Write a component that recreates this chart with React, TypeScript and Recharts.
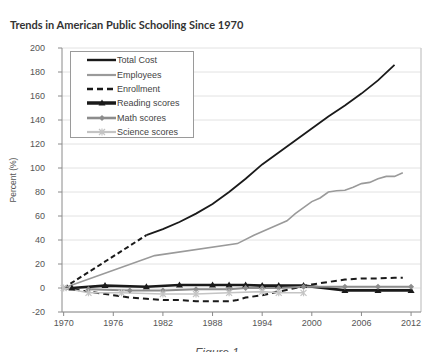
import { CartesianGrid, Line, LineChart, ReferenceLine, XAxis, YAxis } from 'recharts'

// values (percent change since 1970)
const costEarlyYears = [1970, 1980]
const costEarlyValues = [0, 44]

const costYears = [1980, 1982, 1984, 1986, 1988, 1990, 1992, 1994, 1996, 1998, 2000, 2002, 2004, 2006, 2008, 2010]
const costValues = [44, 49, 55, 62, 70, 80, 91, 103, 113, 123, 133, 143, 152, 162, 173, 186]

const employeeYears = [1970, 1981, 1991, 1993, 1995, 1997, 1998, 1999, 2000, 2001, 2002, 2003, 2004, 2005, 2006, 2007, 2008, 2009, 2010, 2011]
const employeeValues = [0, 27, 37, 44, 50, 56, 62, 67, 72, 75, 80, 81, 81.5, 84, 87, 88, 91, 93, 93, 96]

const enrollmentYears = [1970, 1972, 1974, 1976, 1978, 1980, 1982, 1984, 1986, 1988, 1990, 1991, 1992, 1994, 1996, 1998, 2000, 2002, 2004, 2006, 2008, 2010, 2011]
const enrollmentValues = [0, -2, -4, -6, -8, -9, -10, -10, -11, -11, -11, -10, -8, -6, -3, 0, 3, 5, 7, 8, 8, 8.5, 8.5]

const readingYears = [1971, 1975, 1980, 1984, 1988, 1990, 1992, 1994, 1996, 1999, 2004, 2008, 2012]
const readingValues = [0, 2, 1, 2.5, 2.5, 2.5, 2.5, 2, 2, 2, -2, -2, -2]

const mathYears = [1973, 1978, 1982, 1986, 1990, 1992, 1994, 1996, 1999, 2004, 2008, 2012]
const mathValues = [-1, -2, -2, -1, -1, 0, 0, 0, 1, 1, 1, 1]

const scienceYears = [1970, 1973, 1977, 1982, 1986, 1990, 1994, 1996, 1999]
const scienceValues = [0, -4, -4, -5, -5, -4, -3, -4, -4]

const X_TICKS = [1970, 1976, 1982, 1988, 1994, 2000, 2006, 2012]
const Y_TICKS = [-20, 0, 20, 40, 60, 80, 100, 120, 140, 160, 180, 200]
const X_MIN = 1969.8
const X_MAX = 2013.2

type Marker = 'none' | 'triangle' | 'diamond' | 'cross'

interface SeriesDef {
  key: string
  name: string
  years: number[]
  values: number[]
  color: string
  width: number
  dash?: string
  marker: Marker
}

const SERIES: SeriesDef[] = [
  { key: 'cost', name: 'Total Cost', years: costYears, values: costValues, color: '#1a1a1a', width: 1.8, marker: 'none' },
  { key: 'employees', name: 'Employees', years: employeeYears, values: employeeValues, color: '#9a9a9a', width: 1.6, marker: 'none' },
  { key: 'enrollment', name: 'Enrollment', years: enrollmentYears, values: enrollmentValues, color: '#1a1a1a', width: 2, dash: '6 4', marker: 'none' },
  { key: 'reading', name: 'Reading scores', years: readingYears, values: readingValues, color: '#1a1a1a', width: 2.6, marker: 'triangle' },
  { key: 'math', name: 'Math scores', years: mathYears, values: mathValues, color: '#8c8c8c', width: 2, marker: 'diamond' },
  { key: 'science', name: 'Science scores', years: scienceYears, values: scienceValues, color: '#c4c4c4', width: 1.6, marker: 'cross' },
]

function toPoints(years: number[], values: number[]) {
  return years.map((year, idx) => ({ year, value: values[idx] }))
}

function markerShape(marker: Marker, cx: number, cy: number, color: string, key?: string) {
  if (marker === 'triangle') {
    return <path key={key} d={`M${cx},${cy - 3.5}L${cx + 3.5},${cy + 2.5}L${cx - 3.5},${cy + 2.5}Z`} fill={color} />
  }
  if (marker === 'diamond') {
    return <path key={key} d={`M${cx},${cy - 3}L${cx + 3},${cy}L${cx},${cy + 3}L${cx - 3},${cy}Z`} fill={color} />
  }
  if (marker === 'cross') {
    return (
      <path
        key={key}
        d={`M${cx - 3},${cy - 3}L${cx + 3},${cy + 3}M${cx + 3},${cy - 3}L${cx - 3},${cy + 3}M${cx},${cy - 3.5}L${cx},${cy + 3.5}`}
        stroke={color}
        strokeWidth={1.2}
        fill="none"
      />
    )
  }
  return <g key={key} />
}

const FONT = '"Liberation Sans", Arial, sans-serif'

function LegendBox() {
  return (
    <div
      style={{
        position: 'absolute',
        left: 70,
        top: 51,
        width: 124,
        height: 87,
        border: '1px solid #9a9a9a',
        background: '#fff',
        fontFamily: FONT,
        fontSize: 9,
        color: '#444',
        boxSizing: 'border-box',
        paddingTop: 1,
      }}
    >
      {SERIES.map((s) => (
        <div key={s.key} style={{ display: 'flex', alignItems: 'center', height: 14.4 }}>
          <svg width={46} height={10} style={{ flex: 'none' }}>
            <line x1={16} x2={45} y1={5} y2={5} stroke={s.color} strokeWidth={s.key === 'reading' ? 3.5 : s.width + 0.6} strokeDasharray={s.dash} />
            {markerShape(s.marker, 31, 5, s.color)}
          </svg>
          <span>{s.name}</span>
        </div>
      ))}
    </div>
  )
}

function App() {
  return (
    <div style={{ position: 'relative', width: 430, height: 360, margin: -8, background: '#fff', overflow: 'hidden' }}>
      <div
        style={{
          position: 'absolute',
          left: 10,
          top: 18,
          fontFamily: 'Lato, sans-serif',
          fontWeight: 700,
          fontSize: 11,
          color: '#333',
          whiteSpace: 'nowrap',
        }}
      >
        Trends in American Public Schooling Since 1970
      </div>
      <div
        style={{
          position: 'absolute',
          left: 13,
          top: 180,
          transform: 'translate(-50%, -50%) rotate(-90deg)',
          fontFamily: FONT,
          fontSize: 8.5,
          color: '#555',
          whiteSpace: 'nowrap',
        }}
      >
        Percent (%)
      </div>
      <div style={{ position: 'absolute', left: 0, top: 0 }}>
        <LineChart width={430} height={340} margin={{ top: 48, right: 9, bottom: 8, left: 0 }}>
          <CartesianGrid vertical={false} stroke="#e2e2e2" />
          <XAxis
            dataKey="year"
            type="number"
            domain={[X_MIN, X_MAX]}
            ticks={X_TICKS}
            allowDuplicatedCategory={false}
            height={20}
            tickSize={4}
            tickMargin={4}
            stroke="#8a8a8a"
            tick={{ fill: '#555', fontSize: 9, fontFamily: FONT }}
          />
          <YAxis
            type="number"
            domain={[-20, 200]}
            ticks={Y_TICKS}
            width={62}
            tickSize={4}
            tickMargin={13}
            stroke="#8a8a8a"
            tick={{ fill: '#555', fontSize: 9, fontFamily: FONT }}
          />
          <ReferenceLine x={X_MAX} stroke="#cfcfcf" strokeWidth={1.5} />
          <Line
            data={toPoints(costEarlyYears, costEarlyValues)}
            dataKey="value"
            stroke="#1a1a1a"
            strokeWidth={2}
            strokeDasharray="5 3"
            dot={false}
            isAnimationActive={false}
          />
          {SERIES.map((s) => (
            <Line
              key={s.key}
              data={toPoints(s.years, s.values)}
              dataKey="value"
              name={s.name}
              stroke={s.color}
              strokeWidth={s.width}
              strokeDasharray={s.dash}
              dot={
                s.marker === 'none'
                  ? false
                  : (props: any) => markerShape(s.marker, props.cx, props.cy, s.color, `${s.key}-${props.index}`)
              }
              activeDot={false}
              isAnimationActive={false}
            />
          ))}
        </LineChart>
      </div>
      <LegendBox />
      <div
        style={{
          position: 'absolute',
          left: 0,
          width: 434,
          top: 346,
          textAlign: 'center',
          fontFamily: FONT,
          fontStyle: 'italic',
          fontSize: 12,
          color: '#555',
        }}
      >
        Figure 1
      </div>
    </div>
  )
}

export default App
